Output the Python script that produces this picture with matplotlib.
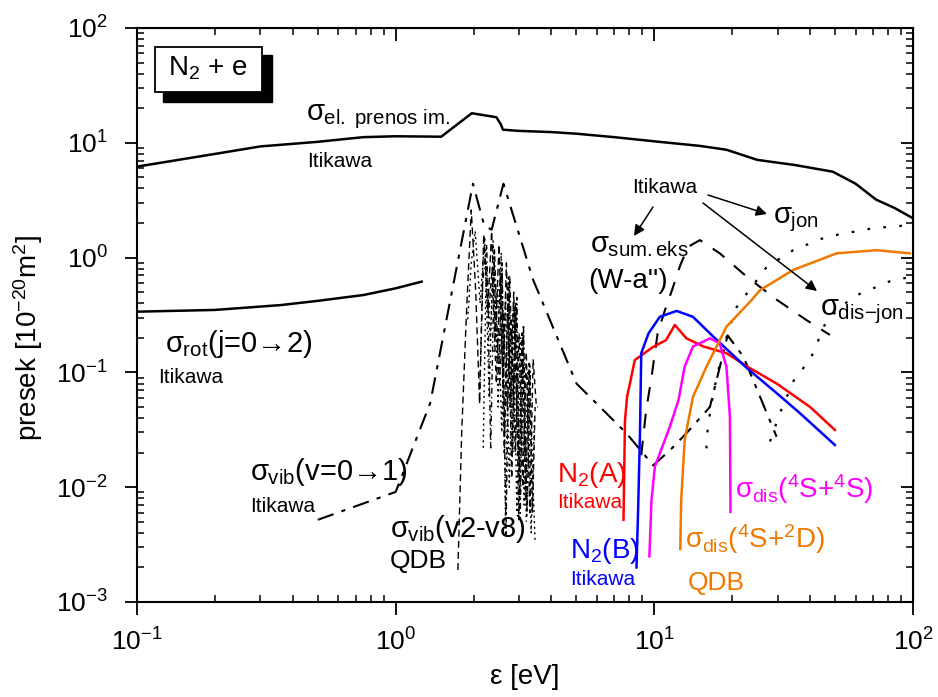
# N2 + e cross sections (Itikawa / QDB), log-log
import matplotlib.pyplot as plt
from matplotlib.patches import Rectangle
from matplotlib.ticker import NullFormatter

plt.rcParams['font.family'] = ['Liberation Sans', 'DejaVu Sans']
plt.rcParams['mathtext.fontset'] = 'custom'
plt.rcParams['mathtext.rm'] = 'Liberation Sans'
plt.rcParams['mathtext.it'] = 'Liberation Sans'
plt.rcParams['mathtext.bf'] = 'Liberation Sans:bold'
plt.rcParams['mathtext.sf'] = 'Liberation Sans'
plt.rcParams['axes.unicode_minus'] = False

# elastic momentum transfer (Itikawa)
el_x = [0.1, 0.2, 0.3, 0.5, 0.75, 1.0, 1.5, 1.97, 2.45, 2.55, 2.6, 3.0, 4.0, 5.0, 7.0, 10, 15, 19, 25, 35, 49, 60, 72, 85, 100]
el_y = [6.2, 8.0, 9.3, 10.2, 11.2, 11.4, 11.3, 18.1, 16.7, 14.5, 13.0, 12.7, 12.4, 12.0, 11.2, 10.3, 9.4, 8.7, 7.1, 6.4, 5.6, 4.4, 3.2, 2.7, 2.2]

# rotational j=0->2 (Itikawa)
rot_x = [0.1, 0.2, 0.36, 0.5, 0.75, 1.0, 1.26]
rot_y = [0.338, 0.35, 0.386, 0.42, 0.472, 0.54, 0.617]

# vibrational v=0->1 (Itikawa)
vib_x = [0.5, 1.0, 1.36, 1.99, 2.2, 2.35, 2.61, 3.4, 5.0, 7.8, 9.9, 11.5, 13.3, 16.4, 19.2, 22.1, 29.7]
vib_y = [0.0052, 0.0091, 0.054, 4.4, 1.9, 1.75, 4.4, 0.64, 0.080, 0.0295, 0.0155, 0.021, 0.0295, 0.050, 0.21, 0.137, 0.0275]

# vibrational v2..v8 (QDB)
qdb_x2 = [1.74, 1.80, 1.88, 1.96, 2.04, 2.11, 2.19, 2.27, 2.35, 2.43, 2.51, 2.60, 2.68, 2.77, 2.86, 2.95, 3.05]
qdb_y2 = [0.0019, 0.03, 0.35, 2.6, 0.5, 0.055, 1.6, 0.35, 1.7, 0.2, 1.3, 0.08, 0.9, 0.05, 0.5, 0.03, 0.01]
qdb_x3 = [1.90, 1.96, 2.03, 2.12, 2.21, 2.30, 2.38, 2.47, 2.56, 2.64, 2.73, 2.82, 2.91, 3.00, 3.10, 3.20]
qdb_y3 = [0.29, 0.9, 1.7, 0.4, 1.5, 0.06, 1.4, 0.15, 1.1, 0.03, 0.7, 0.02, 0.4, 0.012, 0.2, 0.005]
qdb_x4 = [2.11, 2.17, 2.25, 2.33, 2.41, 2.50, 2.58, 2.67, 2.76, 2.85, 2.94, 3.03, 3.12, 3.22, 3.32]
qdb_y4 = [0.054, 0.6, 1.3, 0.022, 1.2, 0.1, 0.9, 0.0037, 0.7, 0.05, 0.45, 0.0052, 0.25, 0.006, 0.1]
qdb_x5 = [2.18, 2.24, 2.32, 2.40, 2.49, 2.58, 2.66, 2.75, 2.84, 2.93, 3.02, 3.12, 3.21, 3.30, 3.40, 3.46]
qdb_y5 = [0.022, 0.9, 0.2, 1.0, 0.05, 0.8, 0.0052, 0.6, 0.02, 0.4, 0.008, 0.25, 0.0054, 0.12, 0.01, 0.0033]
qdb_x6 = [2.28, 2.36, 2.45, 2.54, 2.63, 2.72, 2.81, 2.90, 2.99, 3.08, 3.18, 3.28, 3.38, 3.46]
qdb_y6 = [0.3, 0.8, 0.08, 0.7, 0.02, 0.55, 0.012, 0.4, 0.0052, 0.22, 0.008, 0.12, 0.006, 0.05]
qdb_x7 = [2.40, 2.48, 2.57, 2.66, 2.75, 2.85, 2.94, 3.04, 3.14, 3.24, 3.34, 3.44]
qdb_y7 = [0.15, 0.55, 0.03, 0.45, 0.01, 0.35, 0.006, 0.2, 0.007, 0.1, 0.004, 0.04]
qdb_x8 = [2.52, 2.60, 2.70, 2.80, 2.90, 3.00, 3.10, 3.20, 3.30, 3.40, 3.50, 3.55]
qdb_y8 = [0.08, 0.35, 0.05, 0.3, 0.02, 0.22, 0.01, 0.15, 0.006, 0.13, 0.05, 0.05]

# summed electronic excitation (W-a'')
eks_x = [8.9, 9.3, 9.76, 10.3, 11.0, 11.7, 12.6, 13.5, 15.0, 17.9, 22.8, 29.7, 38.7, 47.7]
eks_y = [0.019, 0.047, 0.092, 0.22, 0.35, 0.52, 0.86, 1.24, 1.42, 1.09, 0.68, 0.43, 0.286, 0.212]

# ionization, dissociative ionization (Itikawa)
jon_x = [15.9, 16.1, 16.9, 17.8, 19.2, 20.8, 27.2, 34.4, 46.4, 70, 97]
jon_y = [0.0218, 0.0336, 0.066, 0.112, 0.219, 0.37, 0.83, 1.16, 1.52, 1.8, 1.92]
djon_x = [28.0, 30.6, 32.5, 34.9, 40.0, 46.4, 58.6, 83.6, 100]
djon_y = [0.025, 0.0443, 0.061, 0.089, 0.128, 0.286, 0.456, 0.638, 0.68]

# N2(A), N2(B) (Itikawa)
na_x = [7.6, 7.7, 7.85, 8.05, 8.4, 9.9, 11.1, 12.0, 13.3, 15.5, 19.0, 23.4, 29.7, 40.0, 49.9]
na_y = [0.0052, 0.038, 0.062, 0.080, 0.128, 0.167, 0.191, 0.259, 0.198, 0.168, 0.147, 0.109, 0.080, 0.050, 0.0315]
nb_x = [8.53, 8.65, 8.8, 8.9, 9.5, 10.5, 12.2, 14.1, 16.9, 22.8, 29.7, 36.6, 49.9]
nb_y = [0.002, 0.006, 0.0295, 0.147, 0.219, 0.305, 0.343, 0.305, 0.205, 0.109, 0.066, 0.044, 0.0233]

# dissociation (QDB)
d44_x = [9.57, 9.75, 10.05, 10.5, 11.5, 12.4, 13.1, 14.1, 16.4, 17.9, 19.0, 19.6, 19.7]
d44_y = [0.0025, 0.0077, 0.0151, 0.0197, 0.034, 0.0575, 0.112, 0.168, 0.198, 0.179, 0.112, 0.041, 0.0061]
d42_x = [12.6, 12.7, 13.1, 14.1, 15.9, 17.4, 19.0, 23.8, 25.6, 34.4, 50.7, 72.3, 97]
d42_y = [0.0029, 0.0077, 0.0258, 0.061, 0.112, 0.168, 0.25, 0.428, 0.52, 0.78, 1.09, 1.16, 1.09]

fig = plt.figure(figsize=(9.38, 6.97), dpi=100)
ax = fig.add_axes([137/938, 1 - 602/697, 776/938, 574/697])

ax.plot(el_x, el_y, color='k', lw=1.8)
ax.plot(rot_x, rot_y, color='k', lw=1.8)
ax.plot(vib_x, vib_y, color='k', lw=1.5, dashes=(8, 4, 2, 4))
qdb = [(qdb_x2, qdb_y2, (5, 3)), (qdb_x3, qdb_y3, (1.5, 2.5)), (qdb_x4, qdb_y4, (4, 2.5, 1, 2.5)),
       (qdb_x5, qdb_y5, (1.5, 2.5)), (qdb_x6, qdb_y6, (4, 3)), (qdb_x7, qdb_y7, (1.5, 2.5)),
       (qdb_x8, qdb_y8, (4, 3))]
for qx, qy, ds in qdb:
    ax.plot(qx, qy, color='k', lw=1.0, dashes=ds)
ax.plot(eks_x, eks_y, color='k', lw=1.5, dashes=(7, 6))
ax.plot(jon_x, jon_y, color='k', lw=1.6, dashes=(1.2, 6))
ax.plot(djon_x, djon_y, color='k', lw=1.6, dashes=(1.2, 6))
ax.plot(na_x, na_y, color='#ff0000', lw=1.8)
ax.plot(nb_x, nb_y, color='#0000ff', lw=1.8)
ax.plot(d44_x, d44_y, color='#ff00ff', lw=1.8)
ax.plot(d42_x, d42_y, color='#f07800', lw=1.8)

ax.set_xscale('log')
ax.set_yscale('log')
ax.set_xlim(0.1, 100)
ax.set_ylim(1e-3, 1e2)

for s in ax.spines.values():
    s.set_linewidth(1.5)
ax.tick_params(which='major', direction='out', length=9, width=1.3, labelsize=19,
               top=False, right=False)
ax.tick_params(axis='x', which='major', pad=10)
ax.tick_params(axis='y', which='major', pad=12)
ax.tick_params(which='minor', direction='in', length=5, width=1.1, top=False, right=False)
ax.xaxis.set_minor_formatter(NullFormatter())
ax.yaxis.set_minor_formatter(NullFormatter())

sx = ax.secondary_xaxis('top')
sx.tick_params(which='major', direction='in', length=9, width=1.3)
sx.tick_params(which='minor', direction='in', length=5, width=1.1)
sx.xaxis.set_major_formatter(NullFormatter())
sx.xaxis.set_minor_formatter(NullFormatter())
sy = ax.secondary_yaxis('right')
sy.tick_params(which='major', direction='in', length=9, width=1.3)
sy.tick_params(which='minor', direction='in', length=5, width=1.1)
sy.yaxis.set_major_formatter(NullFormatter())
sy.yaxis.set_minor_formatter(NullFormatter())

ax.set_xlabel('ε [eV]', fontsize=20)
ax.set_ylabel('presek [10$^{-20}$m$^2$]', fontsize=20)
ax.xaxis.set_label_coords(0.5, -0.108)
ax.yaxis.set_label_coords(-0.118, 0.46)


def pos(x, y):
    # pixel position in the picture -> axes fraction
    return (x - 137) / 776, (602 - y) / 574


labels = [
    (r'$\sigma_{\rm el.\ prenos\ im.}$', 306, 120, 21, 'k'),
    ('Itikawa', 307, 167, 15, 'k'),
    (r'$\sigma_{\rm rot}$(j=0→2)', 165, 352, 21, 'k'),
    ('Itikawa', 158, 383, 15, 'k'),
    (r'$\sigma_{\rm vib}$(v=0→1)', 250, 480, 21, 'k'),
    ('Itikawa', 250, 512, 15, 'k'),
    (r'$\sigma_{\rm vib}$(v2-v8)', 390, 537, 21, 'k'),
    ('QDB', 390, 568, 19, 'k'),
    ('N$_2$(A)', 557, 482, 20, '#ff0000'),
    ('Itikawa', 557, 508, 15, '#ff0000'),
    ('N$_2$(B)', 570, 558, 20, '#0000ff'),
    ('Itikawa', 570, 585, 15, '#0000ff'),
    (r'$\sigma_{\rm dis}$($^4$S+$^4$S)', 735, 498, 20, '#ff00ff'),
    (r'$\sigma_{\rm dis}$($^4$S+$^2$D)', 685, 548, 20, '#f07800'),
    ('QDB', 688, 590, 19, '#f07800'),
    ('Itikawa', 632, 193, 15, 'k'),
    (r'$\sigma_{\rm sum.eks}$', 590, 252, 21, 'k'),
    ("(W-a'')", 588, 288, 20, 'k'),
    (r'$\sigma_{\rm jon}$', 773, 223, 21, 'k'),
    (r'$\sigma_{\rm dis\mathrm{-}jon}$', 820, 315, 21, 'k'),
]
for txt, x, y, fs, c in labels:
    ax.text(*pos(x, y), txt, transform=ax.transAxes, fontsize=fs, color=c,
            ha='left', va='baseline')

arrows = [((653, 207), (634, 236)), ((708, 195), (767, 214)), ((703, 203), (817, 291))]
for (x0, y0), (x1, y1) in arrows:
    ax.annotate('', xy=pos(x1, y1), xytext=pos(x0, y0), xycoords='axes fraction',
                textcoords='axes fraction',
                arrowprops=dict(arrowstyle='-|>', color='k', lw=1.1, mutation_scale=16,
                                shrinkA=0, shrinkB=0))

# N2 + e box with shadow
fig.add_artist(Rectangle((163/938, 1 - 102/697), 109/938, 47/697, transform=fig.transFigure,
                         facecolor='k', edgecolor='k', zorder=5))
fig.add_artist(Rectangle((155/938, 1 - 92/697), 107/938, 45/697, transform=fig.transFigure,
                         facecolor='white', edgecolor='k', lw=1.3, zorder=6))
fig.text(168/938, 1 - 76/697, 'N$_2$ + e', fontsize=20, ha='left', va='baseline', zorder=7)

fig.savefig('out.png', dpi=100)
